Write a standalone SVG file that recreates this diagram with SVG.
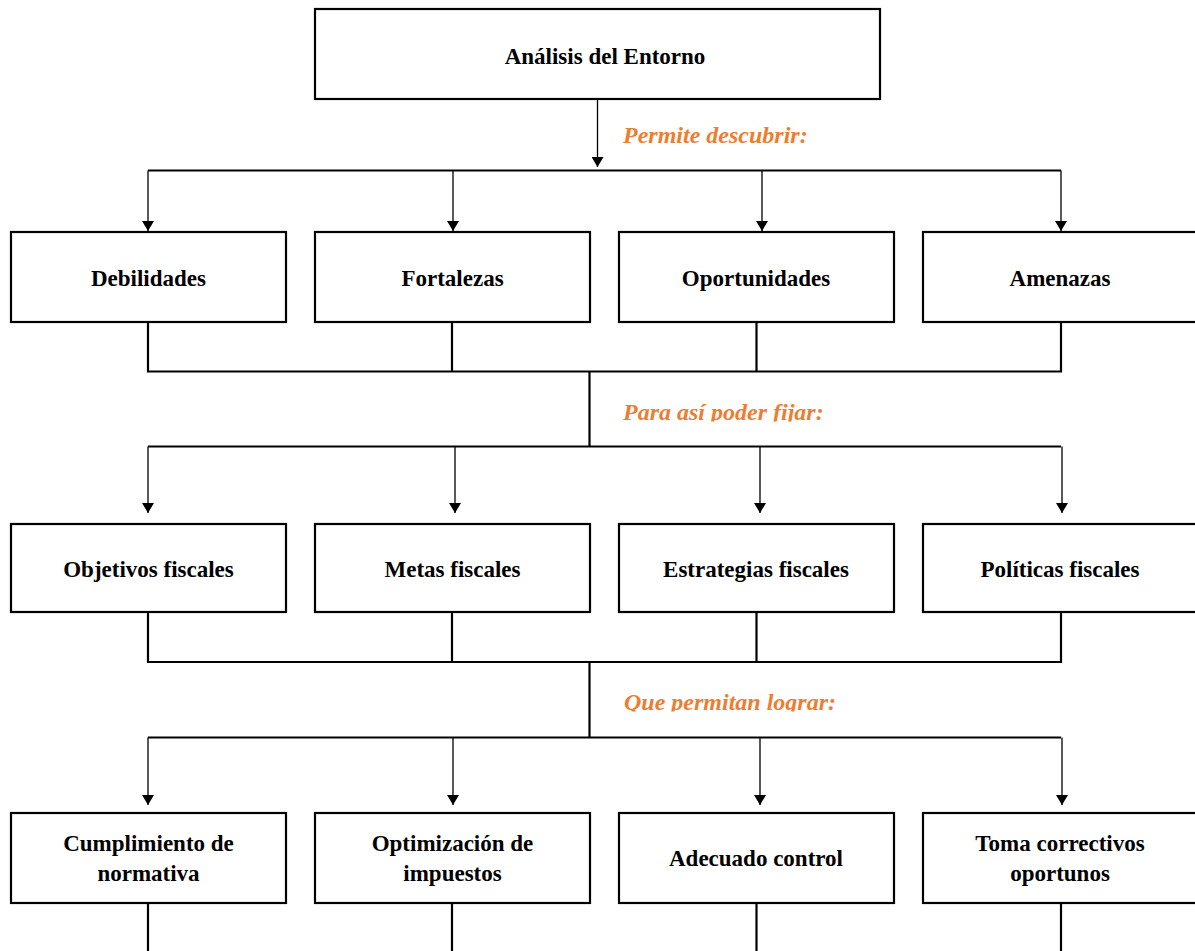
<svg xmlns="http://www.w3.org/2000/svg" width="1195" height="951" viewBox="0 0 1195 951">
<style>
.box{fill:#fff;stroke:#000;stroke-width:2.2}
.t{font-family:"Liberation Serif","Times New Roman",serif;font-weight:bold;font-size:23px;fill:#000;text-anchor:middle}
.lbl{font-family:"Liberation Serif","Times New Roman",serif;font-weight:bold;font-style:italic;font-size:24px;fill:#ED7D31}
.bus{fill:none;stroke:#000;stroke-width:2.2}
.arr{fill:none;stroke:#000;stroke-width:1.3;marker-end:url(#ah)}
</style>
<defs>
<marker id="ah" markerUnits="userSpaceOnUse" markerWidth="10" markerHeight="12" refX="10" refY="6" orient="auto">
<path d="M0,0 L10,6 L0,12 z" fill="#000"/>
</marker>
<clipPath id="c1"><rect x="600" y="390" width="300" height="31.5"/></clipPath>
<clipPath id="c2"><rect x="600" y="680" width="300" height="31.5"/></clipPath>
</defs>
<rect width="1195" height="951" fill="#fff"/>

<g id="connectors">
<path class="arr" d="M597.5,99 V167"/>
<path class="bus" d="M148,170.5 H1061"/>
<path class="arr" d="M148,170.5 V231"/>
<path class="arr" d="M453,170.5 V231"/>
<path class="arr" d="M762,170.5 V231"/>
<path class="arr" d="M1061,170.5 V231"/>
<path class="bus" d="M148,322 V371.5 H1061 V322 M452,322 V371.5 M756.5,322 V371.5"/>
<path class="bus" d="M589.5,371.5 V446.5"/>
<path class="bus" d="M148,446.5 H1061"/>
<path class="arr" d="M148,446.5 V513"/>
<path class="arr" d="M455,446.5 V513"/>
<path class="arr" d="M760,446.5 V513"/>
<path class="arr" d="M1062,446.5 V513"/>
<path class="bus" d="M148,612 V662 H1061 V612 M452,612 V662 M756.5,612 V662"/>
<path class="bus" d="M589.5,662 V737.5"/>
<path class="bus" d="M148,737.5 H1061"/>
<path class="arr" d="M148,737.5 V805"/>
<path class="arr" d="M453,737.5 V805"/>
<path class="arr" d="M760,737.5 V805"/>
<path class="arr" d="M1062,737.5 V805"/>
<path class="bus" d="M148,903 V951 M452,903 V951 M756.5,903 V951 M1061,903 V951"/>
</g>

<g id="labels">
<text class="lbl" x="623" y="143">Permite descubrir:</text>
<text class="lbl" x="623" y="420" clip-path="url(#c1)">Para así poder fijar:</text>
<text class="lbl" x="624" y="710" clip-path="url(#c2)">Que permitan lograr:</text>
</g>

<g id="n-analisis"><rect class="box" x="315" y="9" width="565" height="90"/><text class="t" x="605" y="64">Análisis del Entorno</text></g>

<g id="n-debilidades"><rect class="box" x="11" y="232" width="275" height="90"/><text class="t" x="148.5" y="286">Debilidades</text></g>
<g id="n-fortalezas"><rect class="box" x="315" y="232" width="275" height="90"/><text class="t" x="452.5" y="286">Fortalezas</text></g>
<g id="n-oportunidades"><rect class="box" x="619" y="232" width="275" height="90"/><text class="t" x="756" y="286">Oportunidades</text></g>
<g id="n-amenazas"><rect class="box" x="923" y="232" width="275" height="90"/><text class="t" x="1060" y="286">Amenazas</text></g>

<g id="n-objetivos"><rect class="box" x="11" y="524" width="275" height="88"/><text class="t" x="148.5" y="577">Objetivos fiscales</text></g>
<g id="n-metas"><rect class="box" x="315" y="524" width="275" height="88"/><text class="t" x="452.5" y="577">Metas fiscales</text></g>
<g id="n-estrategias"><rect class="box" x="619" y="524" width="275" height="88"/><text class="t" x="756" y="577">Estrategias fiscales</text></g>
<g id="n-politicas"><rect class="box" x="923" y="524" width="275" height="88"/><text class="t" x="1060" y="577">Políticas fiscales</text></g>

<g id="n-cumplimiento"><rect class="box" x="11" y="813" width="275" height="90"/><text class="t" x="148.5" y="851">Cumplimiento de</text><text class="t" x="148.5" y="881">normativa</text></g>
<g id="n-optimizacion"><rect class="box" x="315" y="813" width="275" height="90"/><text class="t" x="452.5" y="851">Optimización de</text><text class="t" x="452.5" y="881">impuestos</text></g>
<g id="n-control"><rect class="box" x="619" y="813" width="275" height="90"/><text class="t" x="756" y="866">Adecuado control</text></g>
<g id="n-toma"><rect class="box" x="923" y="813" width="275" height="90"/><text class="t" x="1060" y="851">Toma correctivos</text><text class="t" x="1060" y="881">oportunos</text></g>
</svg>
